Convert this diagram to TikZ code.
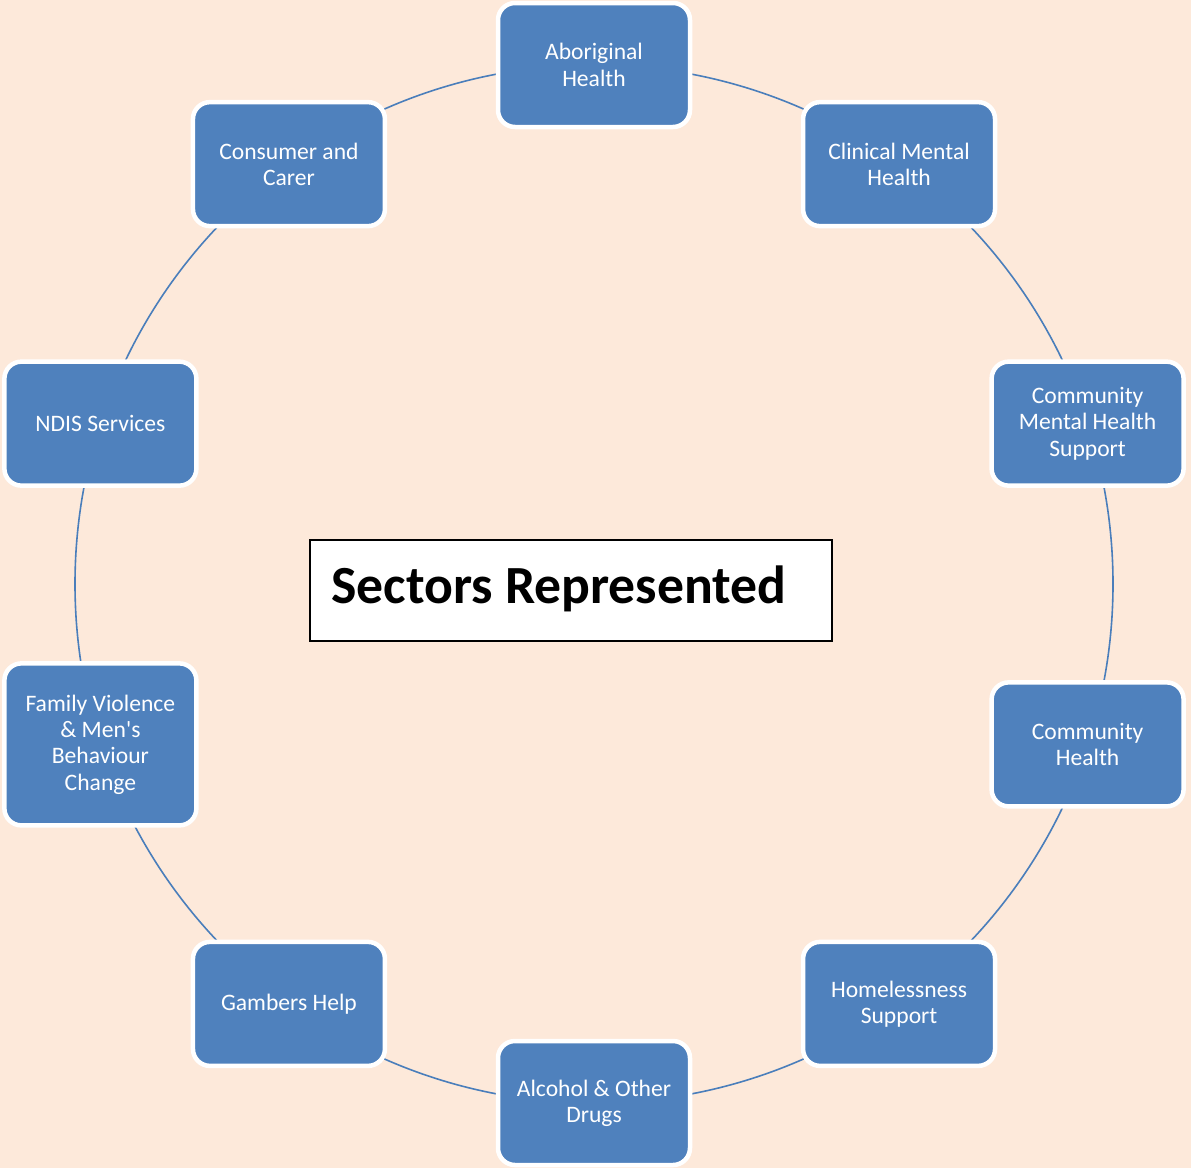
\documentclass[tikz,border=0pt]{standalone}
\usepackage{fontspec}
\setmainfont{Carlito}
\newfontfamily\aposfont{Carlito}
\definecolor{bgpeach}{HTML}{FDE9DA}
\definecolor{boxblue}{HTML}{4F81BD}
\definecolor{ringblue}{HTML}{4A7EBB}
\begin{document}
\begin{tikzpicture}[x=1pt,y=-1pt,
  sector/.style={rectangle, rounded corners=17pt, fill=boxblue, draw=white,
    line width=4.5pt, minimum width=192pt, minimum height=124pt,
    text=white, align=center, inner sep=2pt,
    font=\fontsize{23.6}{26.3}\selectfont},
  ring/.style={draw=ringblue, line width=1.6pt},
  titlebox/.style={rectangle, draw=black, line width=1.2pt, fill=white,
    minimum width=522pt, minimum height=101pt}]
\useasboundingbox (0,0) rectangle (1191,1168);
\fill[bgpeach] (0,0) rectangle (1191,1168);
\coordinate (ctr) at (594,584);
\draw[ring] (ctr) circle[radius=519pt];
\node[sector] (abor) at ({594+519*cos(90)},{584-519*sin(90)}) {Aboriginal\\Health};
\node[sector] (clin) at ({594+519*cos(54)},{584-519*sin(54)}) {Clinical Mental\\Health};
\node[sector] (cmhs) at ({594+519*cos(18)},{584-519*sin(18)}) {Community\\Mental Health\\Support};
\node[sector] (comh) at ({594+519*cos(-18)},{584-519*sin(-18)}) {Community\\Health};
\node[sector] (home) at ({594+519*cos(-54)},{584-519*sin(-54)}) {Homelessness\\Support};
\node[sector] (aod) at ({594+519*cos(-90)},{584-519*sin(-90)}) {Alcohol \& Other\\Drugs};
\node[sector] (gamb) at ({594+519*cos(-126)},{584-519*sin(-126)}) {Gambers Help};
\node[sector, minimum height=162pt] (fam) at ({594+519*cos(198)},{584-519*sin(198)}) {Family Violence\\\& Men{\aposfont'}s\\Behaviour\\Change};
\node[sector] (ndis) at ({594+519*cos(162)},{584-519*sin(162)}) {NDIS Services};
\node[sector] (cons) at ({594+519*cos(126)},{584-519*sin(126)}) {Consumer and\\Carer};
\node[titlebox] (tbox) at (571,590.5) {};
\node[anchor=base west, inner sep=0pt, font=\fontsize{53.7}{60}\selectfont\bfseries] (title) at (331,603) {Sectors Represented};
\end{tikzpicture}
\end{document}
